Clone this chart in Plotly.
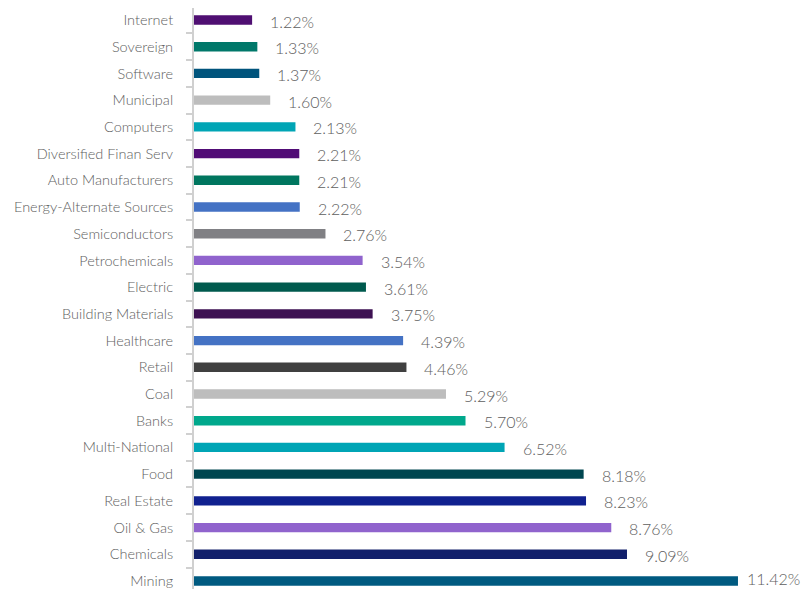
import plotly.graph_objects as go

categories = ["Internet", "Sovereign", "Software", "Municipal", "Computers",
              "Diversified Finan Serv", "Auto Manufacturers", "Energy-Alternate Sources",
              "Semiconductors", "Petrochemicals", "Electric", "Building Materials",
              "Healthcare", "Retail", "Coal", "Banks", "Multi-National", "Food",
              "Real Estate", "Oil & Gas", "Chemicals", "Mining"]
values = [1.22, 1.33, 1.37, 1.60, 2.13, 2.21, 2.21, 2.22, 2.76, 3.54, 3.61, 3.75,
          4.39, 4.46, 5.29, 5.70, 6.52, 8.18, 8.23, 8.76, 9.09, 11.42]
colors = ["#4F0F72", "#00786A", "#00547C", "#BDBDBD", "#00A5B5", "#510C76", "#00765F",
          "#4472C4", "#808084", "#9063CD", "#005A4E", "#3D1152", "#4472C4", "#404040",
          "#BDBDBD", "#00A88C", "#00A5B5", "#004650", "#10218F", "#9063CD", "#12206B",
          "#005A80"]

FONT = "'Lato Light', Lato, 'Open Sans', sans-serif"
GRAY = "#5E5E5E"

fig = go.Figure(go.Bar(
    x=values, y=categories, orientation="h",
    marker=dict(color=colors, line=dict(width=0)),
    width=0.35, hoverinfo="x+y",
))

last = len(values) - 1
for i, (c, v) in enumerate(zip(categories, values)):
    fig.add_annotation(
        x=v, y=c, text=f"{v:.2f}%", showarrow=False,
        xanchor="left", yanchor="middle",
        xshift=7 if i == last else 16, yshift=2 if i == last else -1,
        font=dict(family=FONT, size=16, color=GRAY, weight=300),
    )

# page body has an 8px margin, so the figure is sized to fit the window
fig.update_layout(
    width=803, height=581,
    margin=dict(l=186, r=3, t=0, b=0),
    plot_bgcolor="white", paper_bgcolor="white",
    showlegend=False,
)
fig.update_xaxes(range=[0, 12.89], visible=False, showgrid=False, zeroline=False,
                 automargin=False)
fig.update_yaxes(
    type="category", categoryorder="array", categoryarray=categories,
    range=[21.3, -0.45], automargin=False,
    showline=True, linecolor="#D0D0D0", linewidth=2,
    ticks="outside", tickson="boundaries", ticklen=6, tickcolor="#D0D0D0", tickwidth=2,
    ticklabelstandoff=16,
    tickfont=dict(family=FONT, size=14.5, color=GRAY, weight=300),
    showgrid=False, zeroline=False,
)

fig.write_html("out.html")
